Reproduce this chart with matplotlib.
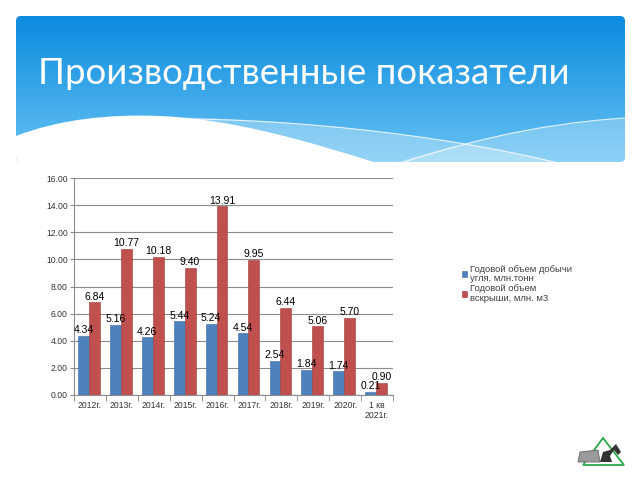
import matplotlib.pyplot as plt
import numpy as np
from matplotlib.patches import FancyBboxPatch, PathPatch, Polygon
from matplotlib.path import Path
from matplotlib.ticker import FixedLocator, FormatStrFormatter

# ---------------- data ----------------
categories = ["2012г.", "2013г.", "2014г.", "2015г.", "2016г.", "2017г.",
              "2018г.", "2019г.", "2020г.", "1 кв\n2021г."]
coal = [4.34, 5.16, 4.26, 5.44, 5.24, 4.54, 2.54, 1.84, 1.74, 0.21]
overburden = [6.84, 10.77, 10.18, 9.40, 13.91, 9.95, 6.44, 5.06, 5.70, 0.90]
coal_label = "Годовой объем добычи\nугля, млн.тонн"
overburden_label = "Годовой объем\nвскрыши, млн. м3"
title = "Производственные показатели"

fig = plt.figure(figsize=(6.4, 4.8), dpi=100, facecolor="white")

#########################################
#          slide header (pixels)         #
#########################################
bg = fig.add_axes([0, 0, 1, 1], zorder=0)
bg.set_xlim(0, 640)
bg.set_ylim(480, 0)
bg.axis("off")

box = FancyBboxPatch((16, 16), 609, 146, boxstyle="round,pad=0,rounding_size=5",
                     facecolor="none", edgecolor="none")
bg.add_patch(box)
grad = np.linspace(0, 1, 256).reshape(-1, 1)
top_c = np.array([0x0c, 0x8b, 0xdf]) / 255
bot_c = np.array([0x66, 0xc2, 0xf3]) / 255
img = top_c + (bot_c - top_c) * grad[..., None]
im = bg.imshow(img, extent=[16, 625, 162, 16], aspect="auto", zorder=1)
im.set_clip_path(box)


def bez(points, codes, **kw):
    p = PathPatch(Path(points, codes), **kw)
    bg.add_patch(p)
    p.set_clip_path(box)
    return p


M, C, L, Z = Path.MOVETO, Path.CURVE4, Path.LINETO, Path.CLOSEPOLY
# light band following the wave
bez([(140, 117), (300, 117), (470, 138), (585, 170), (16, 170), (140, 117)],
    [M, C, C, C, L, Z], facecolor="white", alpha=0.3, edgecolor="none", zorder=2)
# rising light band on the right
bez([(370, 170), (450, 146), (530, 124), (625, 118), (625, 170), (370, 170)],
    [M, C, C, C, L, Z], facecolor="white", alpha=0.25, edgecolor="none", zorder=2)
# thin white lines
bez([(165, 119), (300, 118), (470, 138), (585, 170)], [M, C, C, C],
    facecolor="none", edgecolor="white", lw=0.8, alpha=0.8, zorder=3)
bez([(380, 170), (450, 146), (530, 124), (625, 118)], [M, C, C, C],
    facecolor="none", edgecolor="white", lw=0.8, alpha=0.8, zorder=3)
# white wave
bez([(16, 136), (60, 119), (110, 114), (160, 116), (230, 119), (300, 138),
     (405, 172), (16, 172), (16, 136)],
    [M, C, C, C, C, C, C, L, Z], facecolor="white", edgecolor="none", zorder=4)

bg.text(38, 84, title, fontsize=26.4, color="white", family="Lato",
        va="baseline", ha="left", zorder=5)

# small logo bottom right
bg.add_patch(Polygon([(603, 438), (583, 465), (624, 465)], closed=True,
                     fill=False, edgecolor="#2aa84a", lw=1.3, zorder=5))
bg.add_patch(Polygon([(578, 462), (580, 452), (598, 450), (600, 462)],
                     closed=True, facecolor="#9a9a9a", edgecolor="#666666",
                     lw=0.6, zorder=6))
bg.add_patch(Polygon([(600, 462), (603, 452), (610, 450), (616, 444), (621, 452),
                      (618, 455), (614, 450), (610, 456), (612, 462)],
                     closed=True, facecolor="#333333", edgecolor="none", zorder=6))

#########################################
#              bar chart                 #
#########################################
ax = fig.add_axes([74 / 640, 1 - 395 / 480, (393 - 74) / 640, (395 - 178) / 480],
                  zorder=2)
x = np.arange(len(categories))
w = 0.34
blue, red = "#4f81bd", "#c0504d"
b1 = ax.bar(x - w / 2 - 0.03, coal, w, color=blue, edgecolor="#3d6a9e", lw=0.4,
            label=coal_label, zorder=3)
b2 = ax.bar(x + w / 2 - 0.03, overburden, w, color=red, edgecolor="#9b3b39", lw=0.4,
            label=overburden_label, zorder=3)
for bars, vals in ((b1, coal), (b2, overburden)):
    ax.bar_label(bars, labels=[f"{v:.2f}" for v in vals], padding=0.5,
                 fontsize=7.5, color="black", family="Liberation Sans", zorder=5)

ax.set_xlim(-0.5, len(categories) - 0.5)
ax.set_ylim(0, 16)
ax.set_yticks(np.arange(0, 17, 2))
ax.yaxis.set_major_formatter(FormatStrFormatter("%.2f"))
ax.yaxis.grid(True, color="#8c8c8c", lw=0.8, zorder=0)
ax.set_axisbelow(True)
ax.set_xticks(x)
ax.set_xticklabels(categories)
ax.xaxis.set_minor_locator(FixedLocator(np.arange(-0.5, len(categories), 1)))
ax.tick_params(axis="x", which="major", length=0, pad=4)
ax.tick_params(axis="x", which="minor", length=4, color="#8c8c8c", direction="out")
ax.tick_params(axis="y", length=3, color="#8c8c8c", direction="out", pad=1.5)
for lab in ax.get_xticklabels() + ax.get_yticklabels():
    lab.set_fontsize(6.2)
    lab.set_family("Liberation Sans")
    lab.set_color("#333333")
for s in ("top", "right"):
    ax.spines[s].set_visible(False)
for s in ("left", "bottom"):
    ax.spines[s].set_color("#8c8c8c")
    ax.spines[s].set_linewidth(0.8)

leg = fig.legend(handles=[b1, b2], loc="upper left",
                 bbox_to_anchor=(453 / 640, 1 - 256 / 480), frameon=False,
                 handlelength=0.6, handleheight=0.6, handletextpad=0.3,
                 labelspacing=0.1, prop={"family": "Liberation Sans", "size": 6.8})
for t in leg.get_texts():
    t.set_color("#404040")
    t.set_linespacing(1.1)

fig.savefig("out.png", dpi=100, facecolor="white")
